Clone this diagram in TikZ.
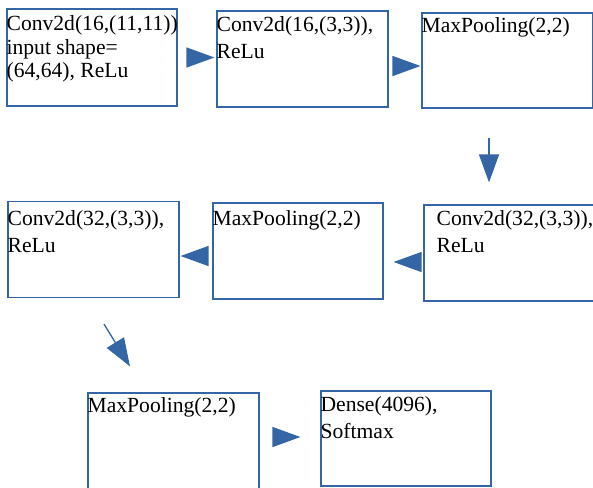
\documentclass[tikz,border=0pt]{standalone}
\usepackage{fontspec}
\setmainfont{Liberation Serif}
\usepackage{tikz}
\usetikzlibrary{arrows.meta}
\definecolor{lineblue}{HTML}{3465A4}

\begin{document}
\begin{tikzpicture}[x=1pt, y=-1pt,
    box/.style={draw=lineblue, line width=1.2pt, minimum width=171pt, minimum height=96pt, inner sep=0pt},
    lbl/.style={anchor=base west, align=left, inner sep=0pt, font=\fontsize{21.6}{26.7}\selectfont},
    arr/.style={draw=lineblue, line width=1.3pt, -{Triangle[length=28pt, width=20pt]}}]
    \useasboundingbox (0,0) rectangle (593,487);
    \clip (0,0) rectangle (593,487);

    % layer boxes
    \node[box, minimum width=170pt, minimum height=97pt] (c1) at (92, 57.5) {};
    \node[box] (c2) at (302.5, 59) {};
    \node[box, minimum height=95pt] (c3) at (507.5, 60.5) {};
    \node[box] (c4) at (93.5, 249.5) {};
    \node[box, minimum width=170pt] (c5) at (298, 251) {};
    \node[box] (c6) at (509.5, 253) {};
    \node[box] (c7) at (173.5, 441) {};
    \node[box, minimum width=170pt, minimum height=95pt] (c8) at (406, 438.5) {};

    % layer texts (anchored at the last baseline)
    \node[lbl, font=\fontsize{21.6}{23.5}\selectfont] (t1) at ([shift={(0,69.5)}]c1.north west) {Conv2d(16,(11,11))\\input shape=\\(64,64), ReLu};
    \node[lbl] (t2) at ([shift={(0,48.2)}]c2.north west) {Conv2d(16,(3,3)),\\ReLu};
    \node[lbl] (t3) at ([shift={(0,20.5)}]c3.north west) {MaxPooling(2,2)};
    \node[lbl] (t4) at ([shift={(0,51.2)}]c4.north west) {Conv2d(32,(3,3)),\\ReLu};
    \node[lbl] (t5) at ([shift={(0,23)}]c5.north west) {MaxPooling(2,2)};
    \node[lbl] (t6) at ([shift={(13,48.2)}]c6.north west) {Conv2d(32,(3,3)),\\ReLu};
    \node[lbl] (t7) at ([shift={(0,20.5)}]c7.north west) {MaxPooling(2,2)};
    \node[lbl] (t8) at ([shift={(0,48.2)}]c8.north west) {Dense(4096),\\Softmax};

    % flow arrows
    \draw[arr, shorten <=10pt, shorten >=2pt] (c1.east) -- (c1.east -| c2.west);
    \draw[arr, shorten <=4pt, shorten >=1pt] ([yshift=-7pt]c2.east) -- ([yshift=-7pt]c2.east -| c3.west);
    \draw[arr, shorten <=29pt, shorten >=22pt] ([xshift=-18.5pt]c3.south) -- ([xshift=-18.5pt]c3.south |- c6.north);
    \draw[arr, shorten <=3pt, shorten >=10pt] ([yshift=-9pt]c6.west) -- ([yshift=-9pt]c6.west -| c5.east);
    \draw[arr, shorten <=5pt, shorten >=1pt] ([yshift=-5pt]c5.west) -- ([yshift=-5pt]c5.west -| c4.east);
    \draw[arr] ([shift={(10.5,26)}]c4.south) -- ([shift={(-43.5,-26)}]c7.north);
    \draw[arr, shorten <=14pt, shorten >=20pt] ([yshift=4pt]c7.east) -- ([yshift=4pt]c7.east -| c8.west);
\end{tikzpicture}
\end{document}
